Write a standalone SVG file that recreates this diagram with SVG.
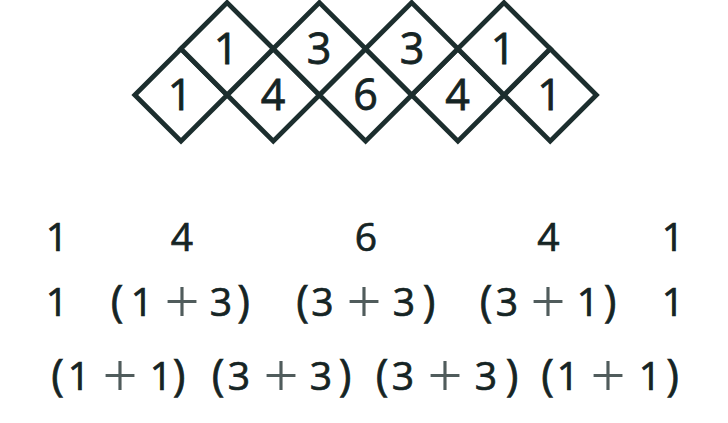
<svg xmlns="http://www.w3.org/2000/svg" width="728" height="423" viewBox="0 0 728 423">
<style>
.dm{fill:#ffffff;stroke:#1c2e2e;stroke-width:4.8;stroke-linejoin:miter}
.dd{font-family:"Open Sans","Noto Sans","DejaVu Sans",sans-serif;font-size:43px;fill:#152424;stroke:#152424;stroke-width:0.8;text-anchor:middle}
.r{font-family:"Open Sans","Noto Sans","DejaVu Sans",sans-serif;font-size:39px;fill:#152424;stroke:#152424;stroke-width:0.7;text-anchor:middle}
.b{font-size:43px}
.p{font-family:"Liberation Serif","Times New Roman",serif;font-size:62px;fill:#505c5c;stroke:none}
</style>
<defs>
<polygon id="dia" points="0,-46.2 46.2,0 0,46.2 -46.2,0"/>
</defs>
<rect width="728" height="423" fill="#ffffff"/>
<g id="diamonds">
<g id="b1"><use href="#dia" class="dm" x="181" y="95"/><text class="dd" x="180" y="110">1</text></g>
<g id="b2"><use href="#dia" class="dm" x="273.3" y="95"/><text class="dd" x="273" y="110">4</text></g>
<g id="b3"><use href="#dia" class="dm" x="365.6" y="95"/><text class="dd" x="365.5" y="110">6</text></g>
<g id="b4"><use href="#dia" class="dm" x="457.9" y="95"/><text class="dd" x="457.5" y="110">4</text></g>
<g id="b5"><use href="#dia" class="dm" x="550.2" y="95"/><text class="dd" x="549.5" y="110">1</text></g>
<g id="t1"><use href="#dia" class="dm" x="227.1" y="48.8"/><text class="dd" x="226" y="63.5">1</text></g>
<g id="t2"><use href="#dia" class="dm" x="319.4" y="48.8"/><text class="dd" x="319" y="63.5">3</text></g>
<g id="t3"><use href="#dia" class="dm" x="411.7" y="48.8"/><text class="dd" x="412" y="63.5">3</text></g>
<g id="t4"><use href="#dia" class="dm" x="504" y="48.8"/><text class="dd" x="503" y="63.5">1</text></g>
</g>
<g id="row1">
<text class="r" x="57" y="251">1</text>
<text class="r" x="182" y="251">4</text>
<text class="r" x="366" y="251">6</text>
<text class="r" x="548.5" y="251">4</text>
<text class="r" x="673" y="251">1</text>
</g>
<g id="row2">
<text class="r" x="57" y="316">1</text>
<text class="r" y="316"><tspan class="b" x="117">(</tspan><tspan x="142">1</tspan><tspan class="p" x="182" y="322">+</tspan><tspan x="221" y="316">3</tspan><tspan class="b" x="243.5">)</tspan></text>
<text class="r" y="316"><tspan class="b" x="302.5">(</tspan><tspan x="322.5">3</tspan><tspan class="p" x="364" y="322">+</tspan><tspan x="404" y="316">3</tspan><tspan class="b" x="429">)</tspan></text>
<text class="r" y="316"><tspan class="b" x="486">(</tspan><tspan x="507">3</tspan><tspan class="p" x="548" y="322">+</tspan><tspan x="588" y="316">1</tspan><tspan class="b" x="610">)</tspan></text>
<text class="r" x="673" y="316">1</text>
</g>
<g id="row3">
<text class="r" y="390"><tspan class="b" x="57.5">(</tspan><tspan x="79">1</tspan><tspan class="p" x="120" y="396">+</tspan><tspan x="161" y="390">1</tspan><tspan class="b" x="179">)</tspan></text>
<text class="r" y="390"><tspan class="b" x="218">(</tspan><tspan x="239">3</tspan><tspan class="p" x="281" y="396">+</tspan><tspan x="321" y="390">3</tspan><tspan class="b" x="345">)</tspan></text>
<text class="r" y="390"><tspan class="b" x="382">(</tspan><tspan x="403">3</tspan><tspan class="p" x="445" y="396">+</tspan><tspan x="486" y="390">3</tspan><tspan class="b" x="512">)</tspan></text>
<text class="r" y="390"><tspan class="b" x="547.5">(</tspan><tspan x="568">1</tspan><tspan class="p" x="608" y="396">+</tspan><tspan x="650" y="390">1</tspan><tspan class="b" x="672.5">)</tspan></text>
</g>
</svg>
